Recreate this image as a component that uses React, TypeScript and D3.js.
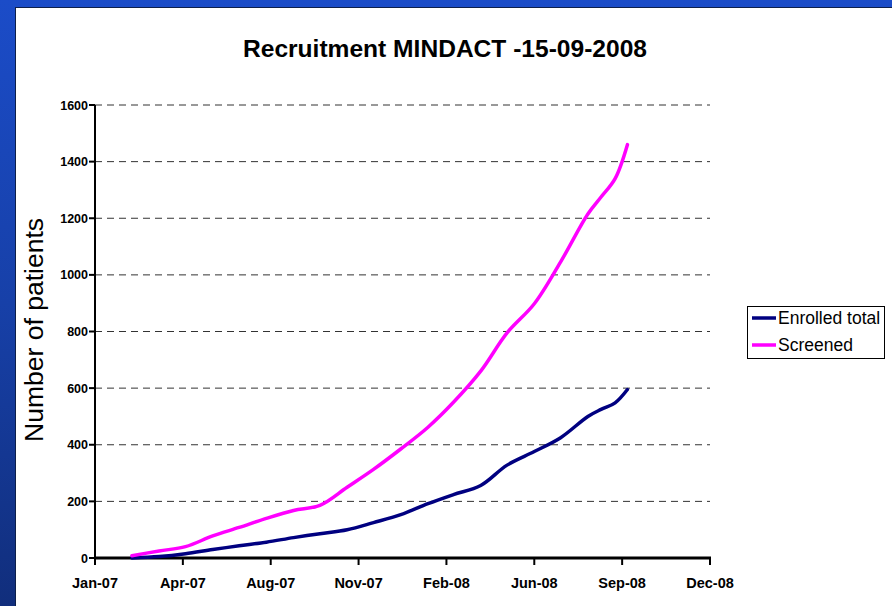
import React from "react";
import * as d3 from "d3";

const W = 892;
const H = 606;

const dates = [
  "2007-03-01", "2007-04-01", "2007-05-01", "2007-06-01", "2007-07-01", "2007-08-01",
  "2007-09-01", "2007-10-01", "2007-11-01", "2007-12-01", "2008-01-01", "2008-02-01",
  "2008-03-01", "2008-04-01", "2008-05-01", "2008-06-01", "2008-07-01", "2008-08-01",
  "2008-08-16", "2008-09-01", "2008-09-15",
];
const enrolled = [0, 5, 15, 30, 43, 56, 72, 86, 100, 125, 153, 192, 224, 256, 328, 376, 425, 500, 525, 548, 595];
const screened = [8, 25, 40, 78, 108, 140, 168, 186, 250, 313, 385, 462, 550, 660, 795, 898, 1046, 1215, 1275, 1340, 1460];

const yTicks = [0, 200, 400, 600, 800, 1000, 1200, 1400, 1600];
const xStart = "2007-01-18";
const xTickCount = 8;
const tickStepDays = 100;

const seriesNames = ["Enrolled total", "Screened"];
const seriesColors = ["#000080", "#ff00ff"];

const parse = d3.utcParse("%Y-%m-%d");
const fmt = d3.utcFormat("%b-%y");

export default function App() {
  const left = 95, right = 710, top = 105, bottom = 558;
  const start = parse(xStart) as Date;
  const xTicks = d3.range(xTickCount).map((k) => d3.utcDay.offset(start, k * tickStepDays));
  const x = d3.scaleUtc().domain([xTicks[0], xTicks[xTicks.length - 1]]).range([left, right]);
  const y = d3.scaleLinear().domain([0, 1600]).range([bottom, top]);
  const pts = dates.map((d) => parse(d) as Date);
  const line = d3
    .line<number>()
    .x((_, i) => x(pts[i]))
    .y((v) => y(v))
    .curve(d3.curveCatmullRom.alpha(0.5));
  const series = [enrolled, screened];

  return (
    <svg
      width={W}
      height={H}
      style={{ position: "absolute", left: 0, top: 0, display: "block" }}
      fontFamily="'Liberation Sans', Arial, sans-serif"
    >
      <defs>
        <linearGradient id="bg" x1="0" y1="0" x2="0" y2="1">
          <stop offset="0" stopColor="#1b4cc8" />
          <stop offset="0.5" stopColor="#1740a8" />
          <stop offset="1" stopColor="#112e7c" />
        </linearGradient>
      </defs>
      <rect x={0} y={0} width={W} height={H} fill="url(#bg)" />
      <rect x={15} y={7} width={W - 15} height={H - 7} fill="#0d1f4a" />
      <rect x={16} y={8} width={W - 16} height={H - 8} fill="#ffffff" />

      <text x={445} y={57} textAnchor="middle" fontSize={24.5} fontWeight="bold" fill="#000" textLength={404} lengthAdjust="spacingAndGlyphs">
        Recruitment MINDACT -15-09-2008
      </text>

      {yTicks.slice(1).map((t) => (
        <line key={"g" + t} x1={left} x2={right} y1={y(t)} y2={y(t)} stroke="#333" strokeWidth={1} strokeDasharray="7,5" />
      ))}

      {yTicks.map((t) => (
        <g key={"y" + t}>
          <line x1={left - 6} x2={left} y1={y(t)} y2={y(t)} stroke="#000" strokeWidth={2} />
          <text x={left - 7} y={y(t) + 4.5} textAnchor="end" fontSize={12.5} fontWeight="bold" fill="#000">
            {t}
          </text>
        </g>
      ))}

      {xTicks.map((t, i) => (
        <g key={"x" + i}>
          <line x1={x(t)} x2={x(t)} y1={bottom} y2={bottom + 7} stroke="#000" strokeWidth={2} />
          <text x={x(t)} y={bottom + 30} textAnchor="middle" fontSize={14.5} fontWeight="bold" fill="#000">
            {fmt(t)}
          </text>
        </g>
      ))}

      <line x1={left} x2={left} y1={top} y2={bottom} stroke="#000" strokeWidth={2} />
      <line x1={left - 1} x2={right + 1} y1={bottom} y2={bottom} stroke="#000" strokeWidth={3} />

      {series.map((s, i) => (
        <path key={"s" + i} d={line(s) || ""} fill="none" stroke={seriesColors[i]} strokeWidth={3.5} strokeLinecap="round" />
      ))}

      <text
        transform={`translate(43,330) rotate(-90)`}
        textAnchor="middle"
        fontSize={25}
        fill="#000"
        textLength={224}
        lengthAdjust="spacingAndGlyphs"
      >
        Number of patients
      </text>

      <rect x={747.5} y={306.5} width={137} height={52} fill="#fff" stroke="#000" strokeWidth={1} />
      {seriesNames.map((n, i) => (
        <g key={"l" + i}>
          <line x1={752} x2={776} y1={318 + i * 27} y2={318 + i * 27} stroke={seriesColors[i]} strokeWidth={3.5} />
          <text x={778} y={324 + i * 27} fontSize={17.5} fill="#000">
            {n}
          </text>
        </g>
      ))}
    </svg>
  );
}
